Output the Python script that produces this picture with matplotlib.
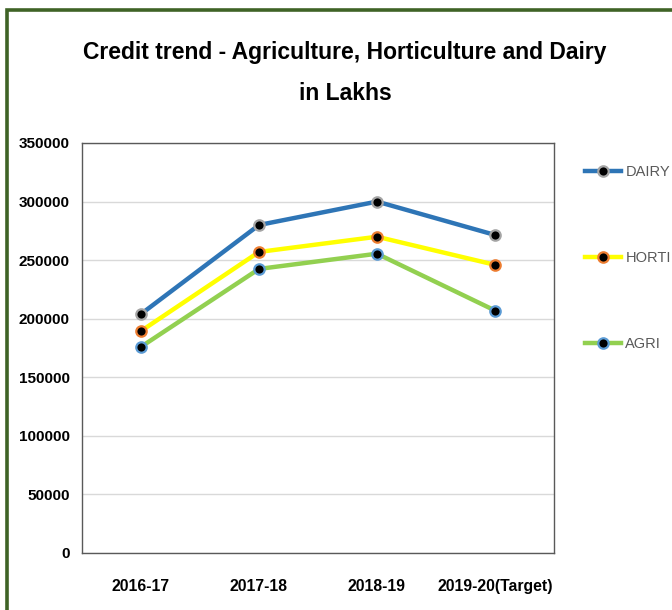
import matplotlib
matplotlib.use("Agg")
import matplotlib.pyplot as plt
from matplotlib.patches import Rectangle
from matplotlib.lines import Line2D

categories = ["2016-17", "2017-18", "2018-19", "2019-20(Target)"]
dairy = [204000, 280000, 300000, 271500]
horti = [189500, 257000, 270000, 246000]
agri = [176000, 242500, 255500, 207000]
yticks = [0, 50000, 100000, 150000, 200000, 250000, 300000, 350000]
series_names = ["DAIRY", "HORTI", "AGRI"]

plt.rcParams['font.family'] = ['Liberation Sans', 'DejaVu Sans']

W, H = 672, 610
fig = plt.figure(figsize=(W / 100, H / 100), dpi=100)
fig.patch.set_facecolor("white")

# green outer border (only top/left visible)
fig.patches.append(Rectangle((6.5 / W, -0.1), 1.2, (H - 9.5) / H + 0.1,
                             transform=fig.transFigure, fill=False,
                             edgecolor="#3f6326", linewidth=2.6))

L, R, T, B = 82, 554, 143, 553
ax = fig.add_axes([L / W, 1 - B / H, (R - L) / W, (B - T) / H])

x = list(range(len(categories)))
styles = [
    (dairy, "#2e75b6", "#a5a5a5"),
    (horti, "#ffff00", "#ed7d31"),
    (agri, "#92d050", "#5b9bd5"),
]
for vals, lc, mec in styles:
    ax.plot(x, vals, color=lc, linewidth=3.2, marker="o", markersize=7.5,
            markerfacecolor="black", markeredgecolor=mec, markeredgewidth=1.6,
            solid_capstyle="round", zorder=3)

ax.set_xlim(-0.5, len(categories) - 0.5)
ax.set_ylim(0, 350000)
ax.set_yticks(yticks)
ax.set_yticklabels([str(v) for v in yticks], fontsize=11, fontweight="bold")
ax.set_xticks(x)
ax.set_xticklabels(categories, fontsize=11.3, fontweight="bold")
ax.tick_params(axis="both", length=0)
ax.tick_params(axis="y", pad=9)
ax.tick_params(axis="x", pad=19)
ax.grid(axis="y", color="#d9d9d9", linewidth=1.0)
ax.set_axisbelow(True)
for s in ax.spines.values():
    s.set_color("#595959")
    s.set_linewidth(1.0)

# title
fig.text(345 / W, 1 - 52 / H, "Credit trend - Agriculture, Horticulture and Dairy",
         ha="center", va="center", fontsize=16.5, fontweight="bold")
fig.text(345 / W, 1 - 93 / H, "in Lakhs",
         ha="center", va="center", fontsize=16.5, fontweight="bold")

# legend
handles = [Line2D([0], [0], color=lc, linewidth=3.2, marker="o", markersize=7.5,
                  markerfacecolor="black", markeredgecolor=mec, markeredgewidth=1.6)
           for _, lc, mec in styles]
leg = fig.legend(handles, series_names, loc="upper left",
                 bbox_to_anchor=(585 / W, 1 - 165 / H), frameon=False,
                 fontsize=10.5, labelcolor="#595959", handlelength=2.48,
                 handletextpad=0.29, labelspacing=4.95, borderpad=0,
                 borderaxespad=0)

fig.savefig("out.png", dpi=100, facecolor="white")
